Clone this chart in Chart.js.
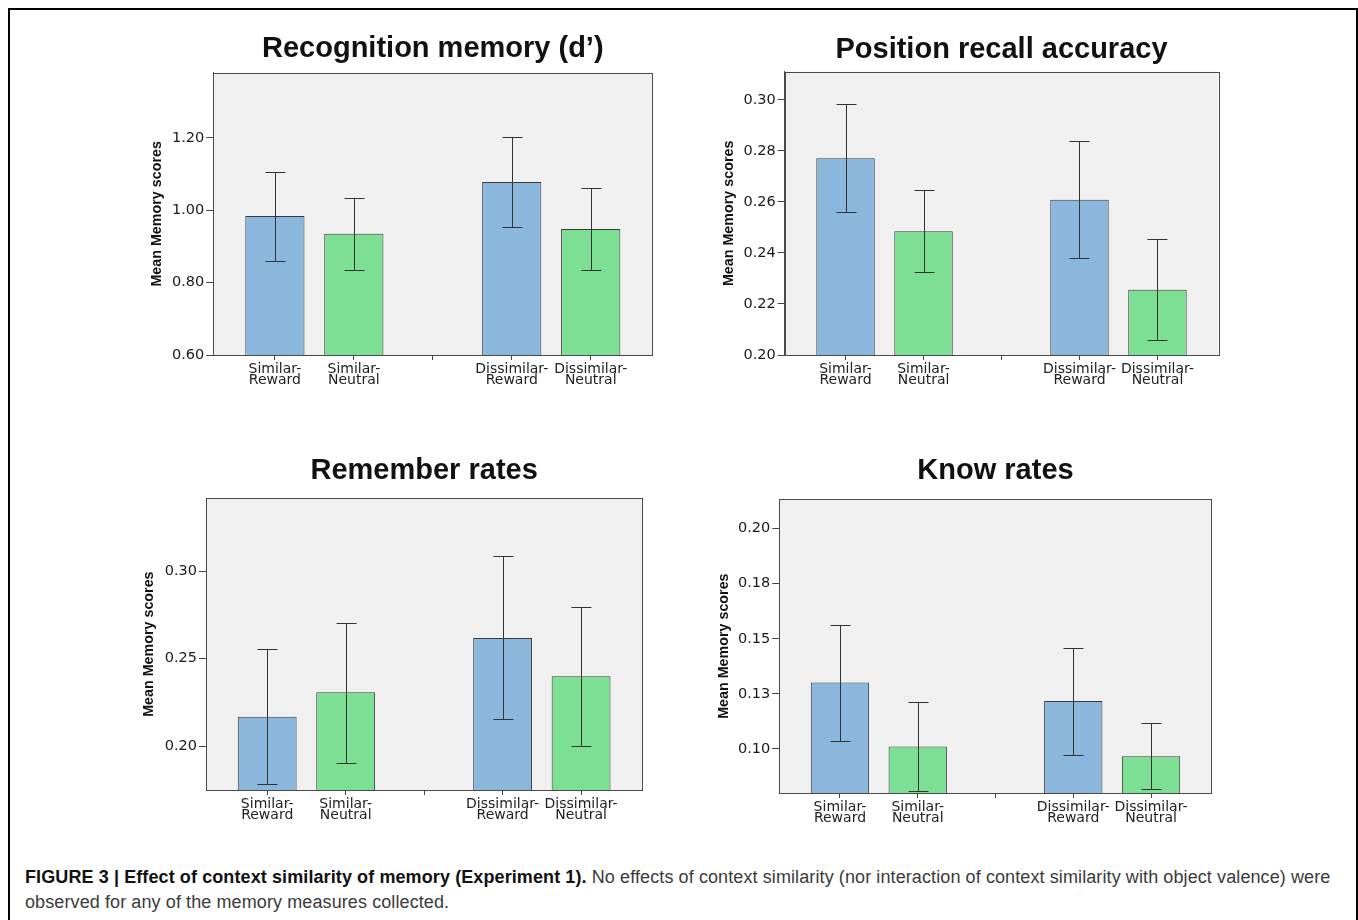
<!DOCTYPE html>
<html>
<head>
<meta charset="utf-8">
<script src="https://cdn.jsdelivr.net/npm/chart.js@4.4.1/dist/chart.umd.min.js"></script>
<style>
html, body { margin: 0; padding: 0; background: #fff; }
body { width: 1358px; height: 920px; position: relative; overflow: hidden; }
#frame { position: absolute; left: 8px; top: 8px; width: 1346px; height: 960px; border: 2px solid #000; }
canvas { position: absolute; }
#caption { position: absolute; left: 25px; top: 865px; font-family: 'Liberation Sans', Arial, sans-serif; font-size: 18px; letter-spacing: 0.1px; line-height: 25px; color: #3a3a3a; white-space: nowrap; }
#caption b { color: #111; }
</style>
</head>
<body>
<div id="frame"></div>
<canvas id="recog"></canvas>
<canvas id="position"></canvas>
<canvas id="remember"></canvas>
<canvas id="know"></canvas>
<div id="caption"><b>FIGURE 3 | Effect of context similarity of memory (Experiment 1).</b> No effects of context similarity (nor interaction of context similarity with object valence) were<br>observed for any of the memory measures collected.</div>
<script>
// categories (x = 2 is the empty gap between the two groups)
const categories = ['Similar-Reward', 'Similar-Neutral', 'Dissimilar-Reward', 'Dissimilar-Neutral'];
const xPositions = [0, 1, 3, 4];
const xTickValues = [0, 1, 2, 3, 4];

// Recognition memory (d')
const recogMeans = [0.984, 0.935, 1.078, 0.948];
const recogLow = [0.861, 0.835, 0.954, 0.834];
const recogHigh = [1.107, 1.035, 1.203, 1.062];
const recogTicks = [0.60, 0.80, 1.00, 1.20];
const recogTickLabels = ['0.60', '0.80', '1.00', '1.20'];

// Position recall accuracy
const posMeans = [0.2771, 0.2485, 0.2608, 0.2256];
const posLow = [0.2560, 0.2324, 0.2379, 0.2058];
const posHigh = [0.2984, 0.2648, 0.2839, 0.2455];
const posTicks = [0.20, 0.22, 0.24, 0.26, 0.28, 0.30];
const posTickLabels = ['0.20', '0.22', '0.24', '0.26', '0.28', '0.30'];

// Remember rates
const remMeans = [0.2169, 0.2308, 0.2618, 0.2399];
const remLow = [0.1787, 0.1907, 0.2154, 0.2002];
const remHigh = [0.2553, 0.2705, 0.3084, 0.2798];
const remTicks = [0.20, 0.25, 0.30];
const remTickLabels = ['0.20', '0.25', '0.30'];

// Know rates
const knowMeans = [0.1301, 0.1011, 0.1218, 0.0967];
const knowLow = [0.1038, 0.0807, 0.0974, 0.0817];
const knowHigh = [0.1562, 0.1214, 0.1459, 0.1118];
const knowTicks = [0.100, 0.125, 0.150, 0.175, 0.200];
const knowTickLabels = ['0.10', '0.13', '0.15', '0.18', '0.20'];

const blue = '#8bb7dd';
const green = '#7ddf93';
const titleSize = 29;

function splitLabel(name) {
    const k = name.indexOf('-');
    return [name.slice(0, k + 1), name.slice(k + 1)];
}

// grey plot background, frame and error bars
const panelDecor = {
    id: 'panelDecor',
    beforeDraw(chart) {
        const a = chart.chartArea;
        const ctx = chart.ctx;
        ctx.save();
        ctx.fillStyle = '#f0f0f0';
        ctx.fillRect(a.left, a.top, a.right - a.left, a.bottom - a.top);
        ctx.restore();
    },
    afterDatasetsDraw(chart, args, opts) {
        const ctx = chart.ctx;
        const y = chart.scales.y;
        const a = chart.chartArea;
        const meta = chart.getDatasetMeta(0);
        ctx.save();
        ctx.strokeStyle = '#333';
        ctx.lineWidth = 1;
        meta.data.forEach((bar, i) => {
            const x = Math.round(bar.x) + 0.5;
            const yl = Math.round(y.getPixelForValue(opts.low[i])) + 0.5;
            const yh = Math.round(y.getPixelForValue(opts.high[i])) + 0.5;
            ctx.beginPath();
            ctx.moveTo(x, yh);
            ctx.lineTo(x, yl);
            ctx.moveTo(x - 10, yh);
            ctx.lineTo(x + 10, yh);
            ctx.moveTo(x - 10, yl);
            ctx.lineTo(x + 10, yl);
            ctx.stroke();
        });
        ctx.strokeStyle = '#4a4a4a';
        ctx.strokeRect(Math.round(a.left) + 0.5, Math.round(a.top) + 0.5,
            Math.round(a.right - a.left), Math.round(a.bottom - a.top));
        ctx.restore();
    }
};

function makePanel(id, title, means, low, high, yMin, yMax, yTicks, yTickLabels, box) {
    const left = Math.round(box.yTitleX - 8.4);
    const top = Math.round(box.titleY - titleSize * 0.6);
    const right = Math.round(box.r) + 14;
    const bottom = Math.round(box.b) + 46;
    const canvas = document.getElementById(id);
    canvas.width = right - left;
    canvas.height = bottom - top;
    canvas.style.left = left + 'px';
    canvas.style.top = top + 'px';

    new Chart(canvas.getContext('2d'), {
        type: 'bar',
        data: {
            datasets: [{
                data: means.map((v, i) => ({ x: xPositions[i], y: v })),
                backgroundColor: means.map((v, i) => i % 2 === 0 ? blue : green),
                borderColor: '#3a3a3a',
                borderWidth: 1,
                barPercentage: 0.75,
                categoryPercentage: 1
            }]
        },
        options: {
            responsive: false,
            animation: false,
            events: [],
            layout: { padding: { left: 0, top: 0, right: right - box.r, bottom: 6 } },
            plugins: {
                legend: { display: false },
                tooltip: { enabled: false },
                title: {
                    display: true,
                    text: title,
                    fullSize: false,
                    color: '#111',
                    font: { family: 'Liberation Sans', size: titleSize, weight: 'bold', lineHeight: 1.2 },
                    padding: { top: 0, bottom: (box.t - top) - titleSize * 1.2 }
                },
                panelDecor: { low: low, high: high }
            },
            scales: {
                x: {
                    type: 'linear',
                    min: -0.78,
                    max: 4.78,
                    offset: false,
                    afterBuildTicks: scale => { scale.ticks = xTickValues.map(v => ({ value: v })); },
                    afterFit: scale => { scale.height = 40; },
                    grid: { offset: false, drawOnChartArea: false, tickLength: 5, color: '#444' },
                    border: { display: true, color: '#4a4a4a' },
                    ticks: {
                        autoSkip: false,
                        maxRotation: 0,
                        padding: 4,
                        color: '#222',
                        font: { family: 'DejaVu Sans', size: 14, lineHeight: 0.8 },
                        callback: value => {
                            const k = xPositions.indexOf(value);
                            return k < 0 ? '' : splitLabel(categories[k]);
                        }
                    }
                },
                y: {
                    min: yMin,
                    max: yMax,
                    afterBuildTicks: scale => { scale.ticks = yTicks.map(v => ({ value: v })); },
                    afterFit: scale => { scale.width = box.l - left; },
                    grid: { drawOnChartArea: false, tickLength: 7, color: '#444' },
                    border: { display: true, color: '#4a4a4a' },
                    ticks: {
                        padding: 2,
                        color: '#1a1a1a',
                        font: { family: 'DejaVu Sans', size: 14.5 },
                        callback: (value, index) => yTickLabels[index]
                    },
                    title: {
                        display: true,
                        text: 'Mean Memory scores',
                        color: '#111',
                        padding: 0,
                        font: { family: 'Liberation Sans', size: 14.3, weight: 'bold', lineHeight: 1.2 }
                    }
                }
            }
        },
        plugins: [panelDecor]
    });
}

makePanel('recog', 'Recognition memory (d\u2019)', recogMeans, recogLow, recogHigh, 0.60, 1.38,
    recogTicks, recogTickLabels, { l: 213.3, t: 72.7, r: 652.3, b: 355, yTitleX: 156, titleY: 49 });
makePanel('position', 'Position recall accuracy', posMeans, posLow, posHigh, 0.20, 0.311,
    posTicks, posTickLabels, { l: 784.7, t: 71.7, r: 1218.3, b: 355, yTitleX: 728.8, titleY: 50.5 });
makePanel('remember', 'Remember rates', remMeans, remLow, remHigh, 0.175, 0.3416,
    remTicks, remTickLabels, { l: 206, t: 498.3, r: 642.3, b: 790.3, yTitleX: 148.8, titleY: 471.5 });
makePanel('know', 'Know rates', knowMeans, knowLow, knowHigh, 0.08, 0.2133,
    knowTicks, knowTickLabels, { l: 779.3, t: 499.3, r: 1211.7, b: 793.3, yTitleX: 723.3, titleY: 471.5 });
</script>
</body>
</html>
